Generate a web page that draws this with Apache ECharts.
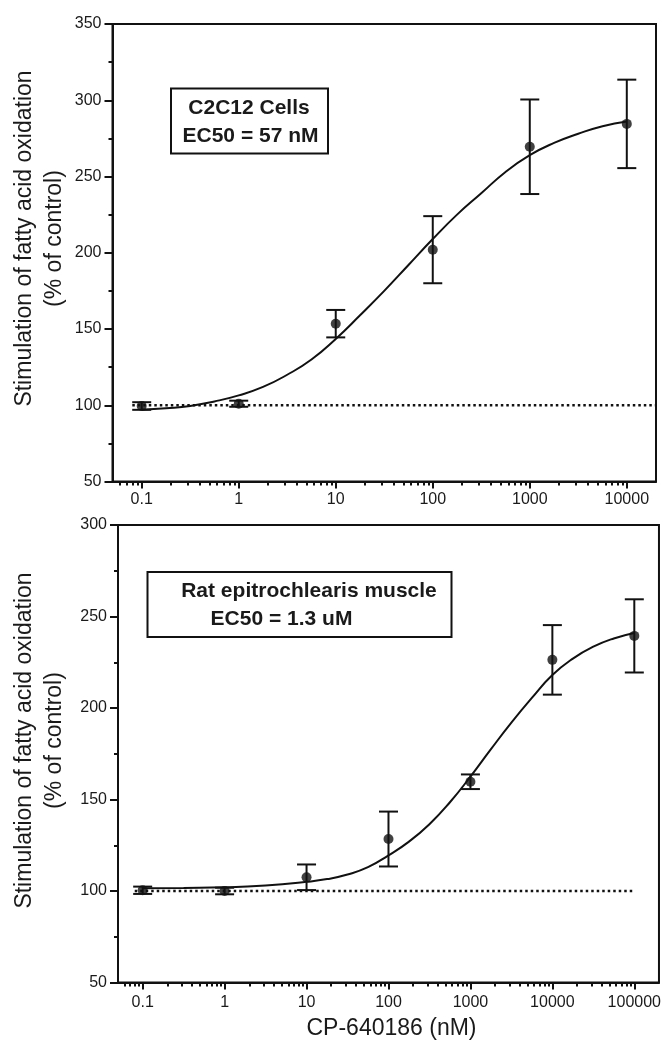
<!DOCTYPE html>
<html>
<head>
<meta charset="utf-8">
<script src="https://cdn.jsdelivr.net/npm/echarts@6/dist/echarts.min.js"></script>
<style>
html,body{margin:0;padding:0;background:#fff;}
#c{width:664px;height:1045px;}
</style>
</head>
<body>
<div id="c"></div>
<script>
// ---------- Data ----------
// Top panel: C2C12 cells
const concTop = [0.1, 1, 10, 100, 1000, 10000];
const meanTop = [99.5, 101, 153.5, 202, 269.5, 284.5];
const errTop  = [2.5, 2, 9, 22, 31, 29];
// fitted curve as drawn in the figure, read every quarter decade
const curveXTop = [0.1, 0.178, 0.316, 0.562, 1, 1.78, 3.16, 5.62, 10, 17.8, 31.6, 56.2, 100, 178, 316, 562, 1000, 1780, 3160, 5620, 10000];
const curveYTop = [97, 98, 99.5, 102.5, 106.5, 112, 120, 130, 143.5, 159, 175, 192, 209, 225, 239, 253, 264, 272, 278, 283, 286];

// Bottom panel: rat epitrochlearis muscle
const concBottom = [0.1, 1, 10, 100, 1000, 10000, 100000];
const meanBottom = [100.4, 100, 107.5, 128.4, 159.7, 226.3, 239.4];
const errBottom  = [2, 1.8, 7, 15, 4, 19, 20];
const curveXBottom = [0.1, 0.316, 1, 3.16, 10, 17.8, 31.6, 56.2, 100, 178, 316, 562, 1000, 1780, 3160, 5620, 10000, 17800, 31600, 56200, 100000];
const curveYBottom = [101.5, 101.7, 102, 103, 105, 106.5, 109, 113, 119.5, 127, 136.5, 148.5, 162.5, 177.5, 192, 205.5, 218, 227, 233.5, 238, 241];

// Control (100 %) reference lines
const controlLevel = 100;
const controlXTop = [0.08, 20000];
const controlXBottom = [0.08, 100000];

// Axis ticks / labels
const xLabelsTop = [0.1, 1, 10, 100, 1000, 10000];
const xLabelsBottom = [0.1, 1, 10, 100, 1000, 10000, 100000];
const xRangeTop = [0.05, 20000];
const xRangeBottom = [0.05, 200000];
const yRangeTop = [50, 350];
const yRangeBottom = [50, 300];
const yStep = 50;

const panelText = {
  top: ['C2C12 Cells', 'EC50 = 57 nM'],
  bottom: ['Rat epitrochlearis muscle', 'EC50 = 1.3 uM']
};
const yTitle = ['Stimulation of fatty acid oxidation', '(% of control)'];
const xTitle = 'CP-640186 (nM)';

// minor log ticks (2..9 x 10^k) within a range
function minorTicks(range) {
  const out = [];
  for (let k = -2; k <= 6; k++) {
    for (let m = 2; m <= 9; m++) {
      const v = +(m * Math.pow(10, k)).toPrecision(6);
      if (v > range[0] && v < range[1]) out.push(v);
    }
  }
  return out;
}

const FONT = 'Liberation Sans, Arial, sans-serif';
const INK = '#111';
const TXT = '#1a1a1a';

const fmt = v => String(+(+v).toPrecision(6));

function majorX(gridIndex, range, labels, margin) {
  return {
    type: 'log', logBase: 10, gridIndex, min: range[0], max: range[1], position: 'bottom',
    axisLine: { show: true, lineStyle: { color: INK, width: 2 } },
    axisTick: { show: true, inside: false, length: 7, lineStyle: { color: INK, width: 2 }, customValues: labels },
    axisLabel: { show: true, customValues: labels, formatter: fmt, fontFamily: FONT, fontSize: 16, color: TXT, margin },
    splitLine: { show: false }, minorTick: { show: false }, minorSplitLine: { show: false }
  };
}
function minorX(gridIndex, range) {
  return {
    type: 'log', logBase: 10, gridIndex, min: range[0], max: range[1], position: 'bottom',
    axisLine: { show: false },
    axisTick: { show: true, inside: false, length: 4, lineStyle: { color: INK, width: 2 }, customValues: minorTicks(range) },
    axisLabel: { show: false },
    splitLine: { show: false }
  };
}
function yAx(gridIndex, range) {
  return {
    type: 'value', gridIndex, min: range[0], max: range[1], interval: yStep,
    axisLine: { show: true, lineStyle: { color: INK, width: 2 } },
    axisTick: { show: true, length: 8, lineStyle: { color: INK, width: 2 } },
    minorTick: { show: true, splitNumber: 2, length: 4, lineStyle: { color: INK, width: 2 } },
    axisLabel: { fontFamily: FONT, fontSize: 16, color: TXT, margin: 11 },
    splitLine: { show: false }, minorSplitLine: { show: false }
  };
}

function errorSeries(xAxisIndex, yAxisIndex, xs, means, errs) {
  return {
    type: 'custom', xAxisIndex, yAxisIndex, z: 5,
    data: xs.map((x, i) => [x, means[i], errs[i]]),
    encode: { x: 0, y: 1 },
    renderItem: function (params, api) {
      const x = api.value(0), m = api.value(1), e = api.value(2);
      const hi = api.coord([x, m + e]);
      const lo = api.coord([x, m - e]);
      const hw = 9.5;
      const st = { stroke: INK, lineWidth: 2 };
      return {
        type: 'group',
        children: [
          { type: 'line', shape: { x1: hi[0], y1: hi[1], x2: lo[0], y2: lo[1] }, style: st },
          { type: 'line', shape: { x1: hi[0] - hw, y1: hi[1], x2: hi[0] + hw, y2: hi[1] }, style: st },
          { type: 'line', shape: { x1: lo[0] - hw, y1: lo[1], x2: lo[0] + hw, y2: lo[1] }, style: st }
        ]
      };
    }
  };
}
function pointSeries(xAxisIndex, yAxisIndex, xs, means) {
  return {
    type: 'scatter', xAxisIndex, yAxisIndex, z: 6, symbol: 'circle', symbolSize: 10,
    itemStyle: { color: INK }, data: xs.map((x, i) => [x, means[i]])
  };
}
function curveSeries(xAxisIndex, yAxisIndex, xs, ys) {
  return {
    type: 'line', xAxisIndex, yAxisIndex, z: 4, showSymbol: false, symbol: 'none',
    smooth: 0.5,
    lineStyle: { color: INK, width: 2 }, data: xs.map((x, i) => [x, ys[i]])
  };
}
function controlSeries(xAxisIndex, yAxisIndex, xs) {
  return {
    type: 'line', xAxisIndex, yAxisIndex, z: 3, showSymbol: false, symbol: 'none',
    lineStyle: { color: INK, width: 2.5, type: [2.5, 3] },
    data: xs.map(x => [x, controlLevel])
  };
}

const gridTop = { left: 112.5, top: 24, width: 543.5, height: 457.5 };
const gridBottom = { left: 118, top: 525, width: 541, height: 457.5 };

function yTitleGraphics(cy) {
  return [
    { type: 'text', x: 25, y: cy, rotation: Math.PI / 2,
      style: { text: yTitle[0], font: '23px ' + FONT, fill: TXT, align: 'center', verticalAlign: 'middle' } },
    { type: 'text', x: 55, y: cy, rotation: Math.PI / 2,
      style: { text: yTitle[1], font: '23px ' + FONT, fill: TXT, align: 'center', verticalAlign: 'middle' } }
  ];
}

const option = {
  backgroundColor: '#fff',
  animation: false,
  grid: [
    Object.assign({ show: true, borderColor: INK, borderWidth: 2, backgroundColor: 'transparent' }, gridTop),
    Object.assign({ show: true, borderColor: INK, borderWidth: 2, backgroundColor: 'transparent' }, gridBottom)
  ],
  xAxis: [
    majorX(0, xRangeTop, xLabelsTop, 10),
    minorX(0, xRangeTop),
    Object.assign(majorX(1, xRangeBottom, xLabelsBottom, 12), {
      name: xTitle, nameLocation: 'middle', nameGap: 35,
      nameTextStyle: { fontFamily: FONT, fontSize: 23, color: TXT, padding: [0, 0, 0, 6] }
    }),
    minorX(1, xRangeBottom)
  ],
  yAxis: [yAx(0, yRangeTop), yAx(1, yRangeBottom)],
  series: [
    controlSeries(0, 0, controlXTop),
    curveSeries(0, 0, curveXTop, curveYTop),
    errorSeries(0, 0, concTop, meanTop, errTop),
    pointSeries(0, 0, concTop, meanTop),
    controlSeries(2, 1, controlXBottom),
    curveSeries(2, 1, curveXBottom, curveYBottom),
    errorSeries(2, 1, concBottom, meanBottom, errBottom),
    pointSeries(2, 1, concBottom, meanBottom)
  ],
  graphic: [
    ...yTitleGraphics(238.5),
    ...yTitleGraphics(740.5),
    { type: 'rect', shape: { x: 171, y: 88.5, width: 157, height: 65 },
      style: { fill: '#fff', stroke: INK, lineWidth: 2 }, z: 10 },
    { type: 'text', x: 249, y: 108, z: 11,
      style: { text: panelText.top[0], font: 'bold 21px ' + FONT, fill: TXT, align: 'center', verticalAlign: 'middle' } },
    { type: 'text', x: 250.5, y: 136, z: 11,
      style: { text: panelText.top[1], font: 'bold 21px ' + FONT, fill: TXT, align: 'center', verticalAlign: 'middle' } },
    { type: 'rect', shape: { x: 147.5, y: 572, width: 304, height: 65 },
      style: { fill: '#fff', stroke: INK, lineWidth: 2 }, z: 10 },
    { type: 'text', x: 309, y: 591, z: 11,
      style: { text: panelText.bottom[0], font: 'bold 21px ' + FONT, fill: TXT, align: 'center', verticalAlign: 'middle' } },
    { type: 'text', x: 281.5, y: 619, z: 11,
      style: { text: panelText.bottom[1], font: 'bold 21px ' + FONT, fill: TXT, align: 'center', verticalAlign: 'middle' } }
  ]
};

const chart = echarts.init(document.getElementById('c'), null, { renderer: 'canvas', width: 664, height: 1045 });
chart.setOption(option);
</script>
</body>
</html>
